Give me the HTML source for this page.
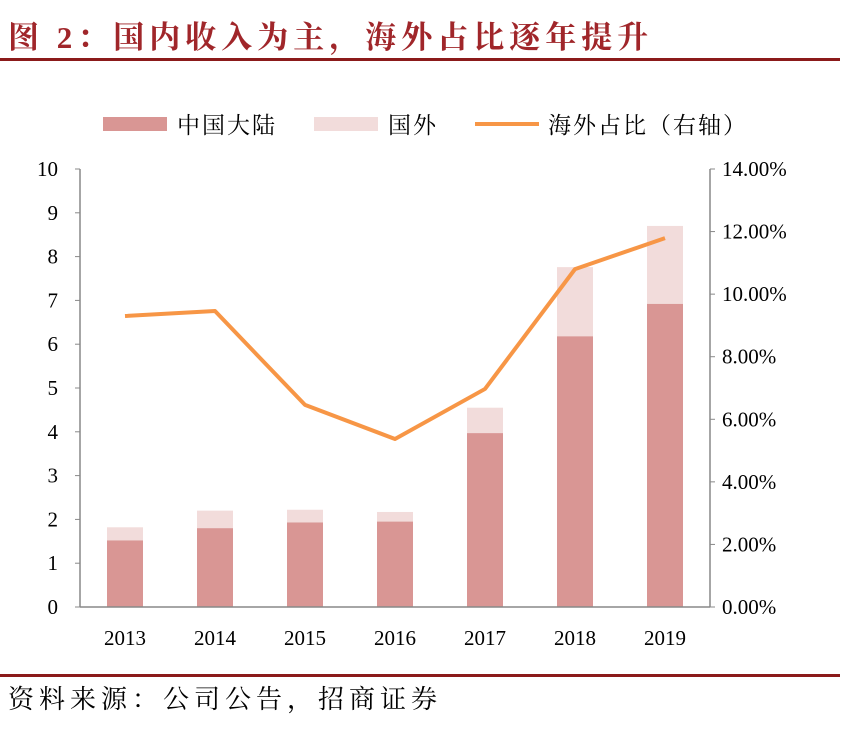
<!DOCTYPE html>
<html><head><meta charset="utf-8"><style>
body{margin:0;background:#fff;width:853px;height:727px;overflow:hidden;font-family:"Liberation Serif","Noto Serif CJK SC",serif;}
</style></head><body>
<svg width="853" height="727" xmlns="http://www.w3.org/2000/svg">
<text x="8" y="48" font-size="31" font-weight="bold" letter-spacing="5" fill="#a0262a" font-family="Liberation Serif, Noto Serif CJK SC, serif">图 2：国内收入为主，海外占比逐年提升</text>
<rect x="0" y="58" width="840" height="3" fill="#8b1a1a"/>
<g id="legend">
<rect x="103" y="117" width="64" height="14" fill="#d99694"/>
<text x="177" y="133" font-size="23" letter-spacing="2" fill="#000">中国大陆</text>
<rect x="314" y="117" width="64" height="14" fill="#f2dcdb"/>
<text x="388" y="133" font-size="23" letter-spacing="2" fill="#000">国外</text>
<line x1="475" y1="124" x2="539" y2="124" stroke="#f79646" stroke-width="4"/>
<text x="548" y="133" font-size="23" letter-spacing="2" fill="#000">海外占比（右轴）</text>
</g>
<g id="plot"></g>
<rect x="0" y="674" width="840" height="3" fill="#8b1a1a"/>
<text x="8" y="708" font-size="26" letter-spacing="5" fill="#000">资料来源：公司公告，招商证券</text>
</svg>
<script>
const years=["2013","2014","2015","2016","2017","2018","2019"];
const mainland=[1.52,1.8,1.93,1.95,3.97,6.18,6.92];
const total=[1.82,2.2,2.22,2.17,4.55,7.76,8.7];
const ratio=[9.30,9.46,6.46,5.37,6.97,10.8,11.79];
const leftTicks=[0,1,2,3,4,5,6,7,8,9,10];
const rightTicks=["0.00%","2.00%","4.00%","6.00%","8.00%","10.00%","12.00%","14.00%"];
const NS="http://www.w3.org/2000/svg";
const g=document.getElementById('plot');
const X0=80,X1=710,Y0=607,Y1=169;
const yL=v=>Y0-(Y0-Y1)*v/10;
const yR=v=>Y0-(Y0-Y1)*v/14;
const band=(X1-X0)/years.length;
const xC=i=>X0+band*(i+0.5);
function mk(t,a){const e=document.createElementNS(NS,t);for(const k in a)e.setAttribute(k,a[k]);g.appendChild(e);return e;}
let e;
years.forEach((y,i)=>{
 e=mk('rect',{x:xC(i)-18,y:yL(total[i]),width:36,height:yL(mainland[i])-yL(total[i]),fill:'#f2dcdb'});
 
 
 e=mk('rect',{x:xC(i)-18,y:yL(mainland[i]),width:36,height:Y0-yL(mainland[i]),fill:'#d99694'});
 
 
 e=mk('text',{x:xC(i),y:Y0+38,'font-size':21,'text-anchor':'middle'});e.textContent=y;
 
 
});
e=mk('line',{x1:X0,y1:Y0,x2:X1,y2:Y0,stroke:'#888','stroke-width':1.5});


e=mk('line',{x1:X0,y1:Y1,x2:X0,y2:Y0,stroke:'#888','stroke-width':1.5});


e=mk('line',{x1:X1,y1:Y1,x2:X1,y2:Y0,stroke:'#888','stroke-width':1.5});


leftTicks.forEach(v=>{
 e=mk('line',{x1:X0-5,y1:yL(v),x2:X0,y2:yL(v),stroke:'#888'});
 
 
 e=mk('text',{x:X0-22,y:yL(v)+7,'font-size':21,'text-anchor':'end'});e.textContent=v;
 
 
});
rightTicks.forEach((t,i)=>{
 const v=i*2;
 e=mk('line',{x1:X1,y1:yR(v),x2:X1+5,y2:yR(v),stroke:'#888'});
 
 
 e=mk('text',{x:X1+12,y:yR(v)+7,'font-size':21});e.textContent=t;
 
 
});
e=mk('polyline',{points:ratio.map((v,i)=>xC(i)+','+yR(v)).join(' '),fill:'none',stroke:'#f79646','stroke-width':4,'stroke-linejoin':'round'});


</script>
</body></html>
